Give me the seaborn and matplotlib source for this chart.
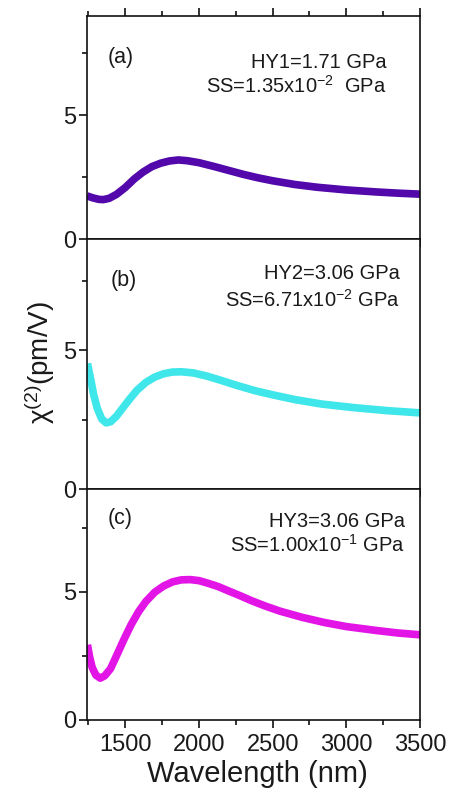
import matplotlib
matplotlib.use("Agg")
import matplotlib.pyplot as plt
from matplotlib.ticker import MultipleLocator
import seaborn as sns
import pandas as pd

# Wavelength (nm) and chi(2) (pm/V) for the three yield-strength cases
wl_a = [1240, 1280, 1320, 1350, 1390, 1440, 1500, 1560, 1620, 1680, 1740, 1800,
        1860, 1920, 2000, 2100, 2200, 2300, 2400, 2500, 2650, 2800, 3000, 3200,
        3350, 3500]
chi_a = [1.74, 1.66, 1.60, 1.59, 1.64, 1.80, 2.08, 2.42, 2.70, 2.92, 3.06, 3.15,
         3.19, 3.16, 3.08, 2.93, 2.77, 2.61, 2.47, 2.35, 2.20, 2.09, 1.98, 1.90,
         1.85, 1.81]

wl_b = [1243, 1265, 1285, 1310, 1340, 1370, 1400, 1440, 1480, 1530, 1580, 1640,
        1700, 1760, 1820, 1880, 1960, 2050, 2150, 2250, 2380, 2500, 2650, 2830,
        3050, 3280, 3500]
chi_b = [4.52, 3.95, 3.40, 2.90, 2.52, 2.38, 2.42, 2.62, 2.90, 3.24, 3.56, 3.84,
         4.03, 4.15, 4.21, 4.22, 4.18, 4.07, 3.91, 3.74, 3.54, 3.39, 3.22, 3.06,
         2.93, 2.82, 2.74]

wl_c = [1243, 1258, 1275, 1300, 1330, 1360, 1400, 1440, 1490, 1540, 1590, 1640,
        1700, 1760, 1820, 1880, 1940, 2000, 2060, 2130, 2200, 2280, 2360, 2450,
        2550, 2700, 2850, 3000, 3200, 3350, 3500]
chi_c = [2.93, 2.45, 2.05, 1.75, 1.63, 1.72, 2.00, 2.50, 3.13, 3.72, 4.22, 4.62,
         4.98, 5.22, 5.38, 5.46, 5.47, 5.43, 5.33, 5.20, 5.03, 4.84, 4.64, 4.44,
         4.24, 4.00, 3.80, 3.64, 3.49, 3.39, 3.32]

panel_tags = ["(a)", "(b)", "(c)"]
hy_labels = ["HY1=1.71 GPa", "HY2=3.06 GPa", "HY3=3.06 GPa"]
ss_labels = ["SS=1.35x10$^{-2}$  GPa", "SS=6.71x10$^{-2}$ GPa", "SS=1.00x10$^{-1}$ GPa"]
line_colors = ["#5208AA", "#3FE6EA", "#E214E6"]
x_ticks = [1500, 2000, 2500, 3000, 3500]
y_ticks = [0, 5]

sns.set_style("ticks")
plt.rcParams["font.family"] = ["Liberation Sans", "DejaVu Sans"]
plt.rcParams["mathtext.fontset"] = "custom"
plt.rcParams["mathtext.rm"] = "Liberation Sans"
plt.rcParams["mathtext.it"] = "Liberation Sans:italic"
plt.rcParams["mathtext.bf"] = "Liberation Sans:bold"

fig = plt.figure(figsize=(4.5, 7.89), dpi=100)

W, H = 450.0, 789.0
left, right = 87, 420
# pixel rows of each panel (top, bottom)
rows = [(16, 239), (239, 489), (489, 720)]
tag_pos = [(0.063, 0.79), (0.07, 0.81), (0.063, 0.85)]
hy_pos = [(0.90, 0.767, 0.655), (0.94, 0.84, 0.73), (0.955, 0.835, 0.726)]
text_color = "#1a1a1a"

series = [(wl_a, chi_a), (wl_b, chi_b), (wl_c, chi_c)]
axes = []
for i, ((top, bot), (wl, chi)) in enumerate(zip(rows, series)):
    ax = fig.add_axes([left / W, 1 - bot / H, (right - left) / W, (bot - top) / H])
    df = pd.DataFrame({"wavelength": wl, "chi2": chi})
    sns.lineplot(data=df, x="wavelength", y="chi2", ax=ax, color=line_colors[i],
                 lw=5.5, solid_capstyle="butt", sort=True)
    ax.set_xlim(1240, 3500)
    ax.set_ylim(0, 9)
    ax.set_xticks(x_ticks)
    ax.set_yticks(y_ticks)
    ax.xaxis.set_minor_locator(MultipleLocator(250))
    ax.yaxis.set_minor_locator(MultipleLocator(2.5))
    ax.set_xlabel("")
    ax.set_ylabel("")
    for s in ax.spines.values():
        s.set_visible(True)
        s.set_linewidth(1.2)
        s.set_color("#111111")
    ax.tick_params(axis="both", which="major", direction="out", length=6,
                   width=1.2, color="#111111", labelsize=17, pad=2,
                   labelcolor=text_color)
    ax.tick_params(axis="both", which="minor", direction="out", length=3.5,
                   width=1.2, color="#111111")
    ax.tick_params(axis="x", which="both", top=(i == 0), bottom=True, right=False)
    ax.tick_params(axis="y", which="both", right=False)
    if i < 2:
        ax.tick_params(axis="x", which="both", labelbottom=False)
    else:
        ax.tick_params(axis="x", which="major", pad=4)

    ax.text(tag_pos[i][0], tag_pos[i][1], panel_tags[i], transform=ax.transAxes,
            fontsize=15.5, ha="left", va="baseline", color=text_color)
    xr, y1, y2 = hy_pos[i]
    ax.text(xr, y1, hy_labels[i], transform=ax.transAxes, fontsize=14.5,
            ha="right", va="baseline", color=text_color)
    ax.text(xr, y2, ss_labels[i], transform=ax.transAxes, fontsize=14.5,
            ha="right", va="baseline", color=text_color)
    axes.append(ax)

fig.text(0.088, 0.54, "χ$^{(2)}$(pm/V)", rotation=90, ha="center", va="center",
         fontsize=20, color=text_color)
fig.text(0.571, 0.009, "Wavelength (nm)", ha="center", va="baseline",
         fontsize=21, color=text_color)

fig.savefig("out.png", dpi=100)
